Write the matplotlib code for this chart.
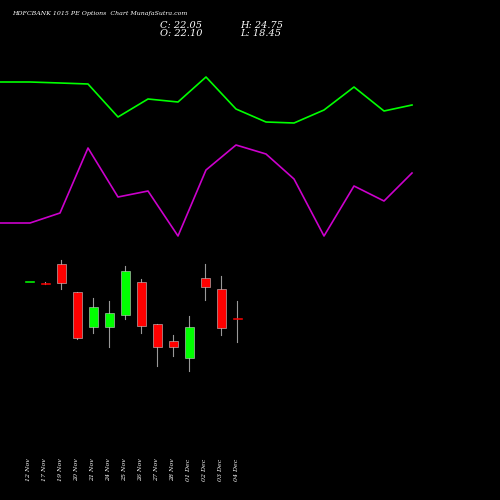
import matplotlib
matplotlib.use("Agg")
import matplotlib.pyplot as plt

dates = ["12 Nov", "17 Nov", "19 Nov", "20 Nov", "21 Nov", "24 Nov", "25 Nov",
         "26 Nov", "27 Nov", "28 Nov", "01 Dec", "02 Dec", "03 Dec", "04 Dec"]
# candle levels on the chart's vertical scale (larger = lower on screen)
opens = [281, 282.5, 264, 292, 327, 327, 315, 282, 324, 341, 358, 278, 289, 318]
closes = [281, 283, 283, 338, 307, 313, 271, 326, 347, 347, 327, 287, 328, 318]
highs = [281, 282, 260, 292, 298, 301, 266, 279, 324, 335, 316, 264, 276, 301]
lows = [281, 284, 289, 339, 333, 347, 319, 333, 366, 356, 371, 300, 335, 342]

line_x = [0, 30, 60, 88, 118, 148, 178, 206, 236, 266, 294, 324, 354, 384, 412]
green_line = [82, 82, 83, 84, 117, 99, 102, 77, 109, 122, 123, 110, 87, 111, 105]
magenta_line = [223, 223, 213, 148, 197, 191, 236, 170, 145, 154, 179, 236, 186, 201, 173]

fig = plt.figure(figsize=(5, 5), dpi=100, facecolor="black")
ax = fig.add_axes([0, 0, 1, 1], facecolor="black")
ax.set_xlim(0, 500)
ax.set_ylim(500, 0)
ax.axis("off")

ax.plot(line_x, green_line, color="#00ff00", lw=1.2)
ax.plot(line_x, magenta_line, color="#cc00cc", lw=1.2)

for i, d in enumerate(dates):
    x = 29 + 16 * i
    o, c, h, l = opens[i], closes[i], highs[i], lows[i]
    up = c < o or (c == o and i == 0)
    col = "#00ff00" if up else "#ff0000"
    ax.plot([x, x], [h, l], color="#999999", lw=0.8, zorder=1)
    top, bot = min(o, c), max(o, c)
    ax.bar(x, max(bot - top, 1.2), bottom=top, width=9, color=col,
           edgecolor="#cccccc" if bot - top > 2 else col, lw=0.4, zorder=2)
    ax.text(x, 470, d, rotation=90, color="white", fontsize=4.5,
            family="serif", style="italic", ha="center", va="center")

ax.text(12, 14, "HDFCBANK 1015 PE Options  Chart MunafaSutra.com", color="white",
        fontsize=4.5, family="serif", style="italic", va="center")
ax.text(160, 25, "C: 22.05", color="white", fontsize=7, family="serif", style="italic", va="center")
ax.text(160, 34, "O: 22.10", color="white", fontsize=7, family="serif", style="italic", va="center")
ax.text(240, 25, "H: 24.75", color="white", fontsize=7, family="serif", style="italic", va="center")
ax.text(240, 34, "L: 18.45", color="white", fontsize=7, family="serif", style="italic", va="center")

fig.savefig("out.png", dpi=100, facecolor="black")
